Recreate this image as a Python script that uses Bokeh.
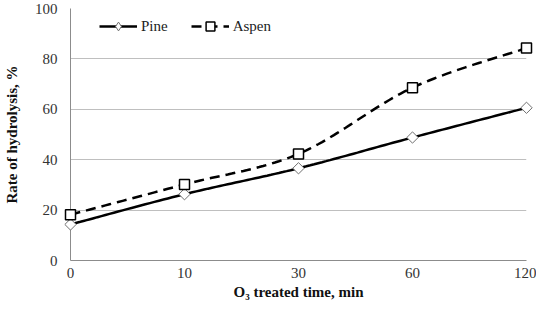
import numpy as np
from bokeh.plotting import figure
from bokeh.models import Range1d, FixedTicker, Legend, LegendItem
from bokeh.embed import file_html
from bokeh.resources import INLINE

categories = ["0", "10", "30", "60", "120"]
pine = [14.3, 26.3, 36.6, 48.8, 60.6]
aspen = [18.2, 30.2, 42.3, 68.6, 84.3]

FONT = "Liberation Serif"


def smooth(xs, ys, n=30):
    pts = np.column_stack([xs, ys]).astype(float)
    P = np.vstack([pts[0], pts, pts[-1]])
    out = []
    for i in range(1, len(P) - 2):
        p0, p1, p2, p3 = P[i - 1], P[i], P[i + 1], P[i + 2]
        c1 = p1 + (p2 - p0) / 6.0
        c2 = p2 - (p3 - p1) / 6.0
        t = np.linspace(0, 1, n)[:, None]
        seg = ((1 - t) ** 3) * p1 + 3 * ((1 - t) ** 2) * t * c1 + 3 * (1 - t) * t ** 2 * c2 + t ** 3 * p2
        out.append(seg if i == 1 else seg[1:])
    s = np.vstack(out)
    return s[:, 0], s[:, 1]


xi = list(range(len(categories)))

p = figure(width=536, height=306, output_backend="svg", toolbar_location=None,
           x_range=Range1d(0, len(categories) - 1), y_range=Range1d(0, 100),
           min_border_left=68, min_border_right=10, min_border_top=8, min_border_bottom=46)
p.outline_line_color = None
p.background_fill_color = "white"

# grid
p.xgrid.grid_line_color = None
p.ygrid.grid_line_color = "#bfbfbf"
p.ygrid.grid_line_width = 1
p.ygrid.ticker = FixedTicker(ticks=[20, 40, 60, 80, 100])

# axes
p.xaxis.ticker = FixedTicker(ticks=xi)
p.xaxis.major_label_overrides = {i: c for i, c in enumerate(categories)}
p.yaxis.ticker = FixedTicker(ticks=[0, 20, 40, 60, 80, 100])
for ax in (p.xaxis[0], p.yaxis[0]):
    ax.axis_line_color = "#8c8c8c"
    ax.axis_line_width = 1
    ax.major_tick_line_color = None
    ax.minor_tick_line_color = None
    ax.major_tick_out = 0
    ax.major_tick_in = 0
    ax.minor_tick_out = 0
    ax.minor_tick_in = 0
    ax.major_label_text_font = FONT
    ax.major_label_text_font_size = "15px"
    ax.major_label_text_color = "#333333"
    ax.axis_label_text_font = FONT
    ax.axis_label_text_font_size = "15px"
    ax.axis_label_text_font_style = "bold"
    ax.axis_label_text_color = "#111111"
p.xaxis.major_label_standoff = 7
p.yaxis.major_label_standoff = 13
p.xaxis.axis_label = "O\u2083 treated time, min"
p.yaxis.axis_label = "Rate of hydrolysis, %"
p.xaxis.axis_label_standoff = 3
p.yaxis.axis_label_standoff = 12

# series
sx, sy = smooth(xi, pine)
l1 = p.line(sx, sy, line_color="black", line_width=2.5)
# diamond (legend glyph) hidden beneath the rotated square markers
m1_leg = p.scatter(xi, pine, marker="diamond", size=8, fill_color="white",
                   line_color="#707070", line_width=1)
m1 = p.scatter(xi, pine, marker="square", angle=np.pi / 4, size=8, fill_color="white",
               line_color="#707070", line_width=1, level="overlay")

ax_, ay_ = smooth(xi, aspen)
l2 = p.line(ax_, ay_, line_color="black", line_width=2.5, line_dash="10 6")
m2 = p.scatter(xi, aspen, marker="square", size=10, fill_color="white",
               line_color="black", line_width=1.5, level="overlay")

legend = Legend(items=[LegendItem(label="Pine", renderers=[l1, m1_leg]),
                       LegendItem(label="Aspen", renderers=[l2, m2])],
                orientation="horizontal", location=(29, 223),
                border_line_color=None, background_fill_alpha=0,
                padding=0, margin=0, spacing=23, glyph_width=38, glyph_height=22,
                label_standoff=4, label_text_font=FONT, label_text_font_size="15px",
                label_text_color="#222222")
p.add_layout(legend)

open("out.html", "w").write(file_html(p, INLINE))
